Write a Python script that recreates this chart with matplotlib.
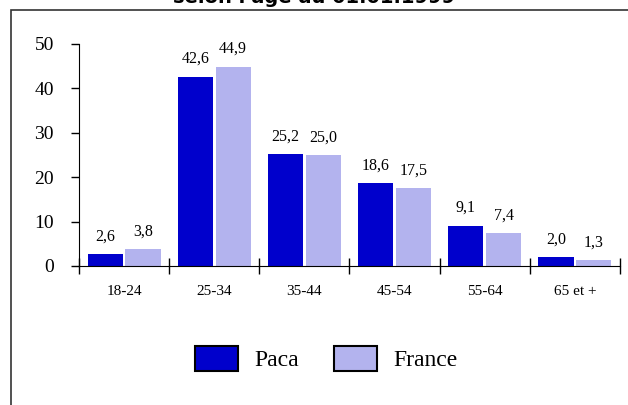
import matplotlib.pyplot as plt
import numpy as np
from matplotlib.patches import Rectangle

categories = ['18-24', '25-34', '35-44', '45-54', '55-64', '65 et +']
paca = [2.6, 42.6, 25.2, 18.6, 9.1, 2.0]
france = [3.8, 44.9, 25.0, 17.5, 7.4, 1.3]

plt.rcParams['font.family'] = ['Liberation Serif', 'DejaVu Serif']

fig = plt.figure(figsize=(6.28, 4.05), dpi=100)
ax = fig.add_axes([79 / 628, 1 - 266 / 405, 541 / 628, 222 / 405])

x = np.arange(len(categories))
w = 0.39
b1 = ax.bar(x - 0.21, paca, w, color='#0000CC', label='Paca')
b2 = ax.bar(x + 0.21, france, w, color='#B3B3EE', label='France')

for bars, vals in ((b1, paca), (b2, france)):
    for rect, v in zip(bars, vals):
        ax.annotate(('%.1f' % v).replace('.', ','),
                    (rect.get_x() + rect.get_width() / 2, v),
                    xytext=(0, 7), textcoords='offset points',
                    ha='center', va='bottom', fontsize=11.5)

ax.set_xlim(-0.5, len(categories) - 0.5)
ax.set_ylim(0, 50)
ax.set_yticks([0, 10, 20, 30, 40, 50])
ax.tick_params(axis='y', labelsize=14, length=6, width=1, pad=12)
ax.set_xticks(np.arange(len(categories) + 1) - 0.5)
ax.set_xticks(x, minor=True)
ax.set_xticklabels([])
ax.set_xticklabels(categories, minor=True)
ax.tick_params(axis='x', which='major', length=12, width=1, direction='inout')
ax.tick_params(axis='x', which='minor', length=0, labelsize=11, pad=14)
ax.spines['top'].set_visible(False)
ax.spines['right'].set_visible(False)
ax.spines['left'].set_bounds(0, 50)

leg = ax.legend(loc='center', bbox_to_anchor=(0.457, -0.417), ncol=2,
                frameon=False, fontsize=17, handlelength=1.82, handleheight=1.3,
                columnspacing=1.5, handletextpad=0.68)
for h in leg.legend_handles:
    h.set_edgecolor('black')
    h.set_linewidth(1.5)

fig.patches.append(Rectangle((11 / 628, -0.1), 1.2, 1 - 10 / 405 + 0.1,
                             transform=fig.transFigure, fill=False,
                             edgecolor='#333333', linewidth=1.2))
fig.text(0.5, 1 + 3 / 405, "selon l'âge au 01.01.1999", ha='center', va='center',
         fontsize=14, fontweight='bold', family=['DejaVu Sans'])

fig.savefig('out.png', dpi=100)
